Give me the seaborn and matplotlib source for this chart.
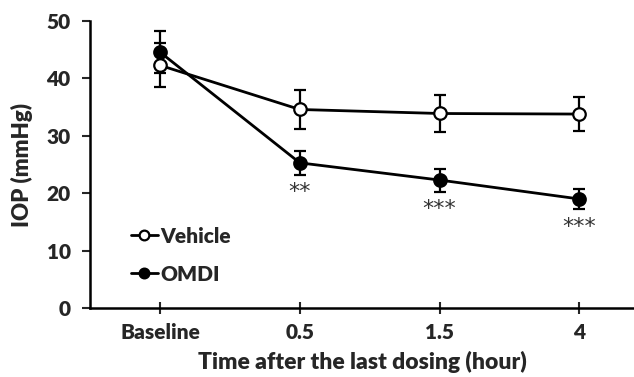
import numpy as np
import pandas as pd
import seaborn as sns
from matplotlib import pyplot as plt

# values (mean +/- SEM, mmHg)
time_labels = ["Baseline", "0.5", "1.5", "4"]
vehicle_mean = [42.3, 34.6, 33.9, 33.8]
vehicle_sem = [3.8, 3.4, 3.2, 2.9]
omdi_mean = [44.6, 25.3, 22.3, 19.0]
omdi_sem = [3.6, 2.1, 2.0, 1.8]
stars = ["", "**", "***", "***"]

sns.set_style("ticks")
plt.rcParams['font.family'] = ['Lato', 'DejaVu Sans']

df = pd.DataFrame({
    "time": list(range(len(time_labels))) * 2,
    "iop": vehicle_mean + omdi_mean,
    "err": vehicle_sem + omdi_sem,
    "group": ["Vehicle"] * 4 + ["OMDI"] * 4,
})

fig = plt.figure(figsize=(6.34, 3.77), dpi=100)
ax = fig.add_axes([0.142, 0.183, 0.858, 0.761])

# OMDI first so the open circles sit on top at baseline
for name, face in [("OMDI", "black"), ("Vehicle", "white")]:
    sub = df[df.group == name]
    ax.errorbar(sub["time"], sub["iop"], yerr=sub["err"], fmt='none',
                ecolor='black', elinewidth=1.6, capsize=4, capthick=1.6,
                zorder=2)
    sns.lineplot(data=sub, x="time", y="iop", ax=ax, color="black",
                 linewidth=2.0, marker="o", markersize=9,
                 markerfacecolor=face, markeredgecolor="black",
                 markeredgewidth=1.6, label=name, zorder=3)

# significance marks under the OMDI points
for i, s in enumerate(stars):
    if s:
        ax.text(i, omdi_mean[i] - omdi_sem[i] - 3.0, s, ha='center',
                va='center', fontsize=16, color='#333333',
                family='DejaVu Sans')

ax.set_xlim(-0.5, 3.39)
ax.set_ylim(0, 50)
ax.set_yticks(np.arange(0, 51, 10))
ax.set_xticks(range(len(time_labels)))
ax.set_xticklabels(time_labels)
ax.tick_params(axis='y', direction='out', length=6, width=1.5,
               labelsize=15, pad=8)
ax.tick_params(axis='x', direction='inout', length=9, width=1.5,
               labelsize=15, pad=6)
for lab in ax.get_xticklabels() + ax.get_yticklabels():
    lab.set_fontweight('heavy')
ax.set_xlabel("Time after the last dosing (hour)", fontsize=16.5,
              fontweight='heavy', labelpad=7)
ax.set_ylabel("IOP (mmHg)", fontsize=16, fontweight='heavy', labelpad=10)

for side in ['top', 'right']:
    ax.spines[side].set_visible(False)
for side in ['left', 'bottom']:
    ax.spines[side].set_linewidth(1.8)
    ax.spines[side].set_color('black')

# legend: reverse so Vehicle is on top
handles, labels = ax.get_legend_handles_labels()
leg = ax.legend(handles[::-1], labels[::-1], loc='lower left',
                bbox_to_anchor=(0.04, 0.02), frameon=False,
                handlelength=1.3, handletextpad=0.15, labelspacing=0.9,
                prop={'weight': 'heavy', 'size': 15})
for h in leg.legend_handles:
    h.set_markersize(7)

fig.savefig("out.png", dpi=100)
